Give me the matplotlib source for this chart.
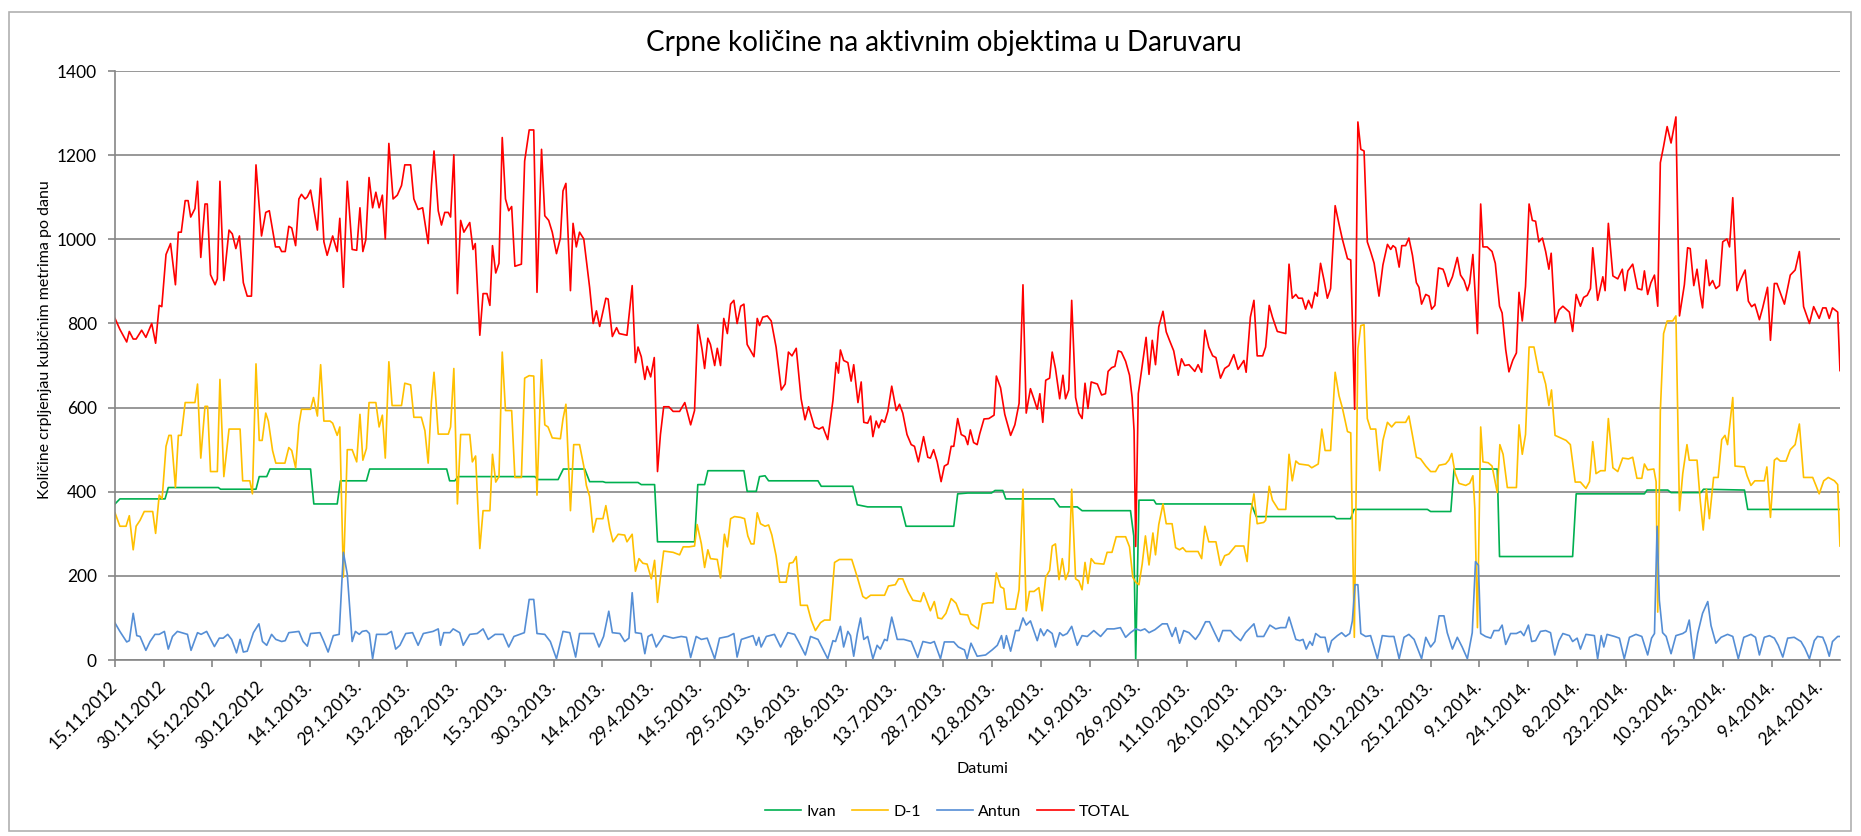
import matplotlib
matplotlib.use("Agg")
import matplotlib.pyplot as plt
from matplotlib.patches import Rectangle

plt.rcParams['font.family'] = ['Lato', 'DejaVu Sans']

# dani od 15.11.2012 (dan 0) do 30.4.2014 (dan 531), vrijednosti u m3/dan
ivan_pts = [(0, 371), (1.5, 383), (15.4, 383), (16.4, 410), (31.8, 410), (32.5, 406), (43.4, 406),
            (44.4, 436), (46.7, 436), (47.7, 454), (60.2, 454), (61.2, 371), (68.4, 371), (69.4, 426),
            (77.4, 426), (78.4, 454), (102.1, 454), (103, 426), (104.6, 426), (105.6, 436), (129.2, 436),
            (130.2, 429), (136.4, 429), (138, 454), (144.6, 454), (146.1, 424), (150.2, 424), (151, 422),
            (161, 422), (162, 417), (166.1, 417), (167, 281), (178.4, 281), (179.4, 417), (181.5, 417),
            (182.5, 450), (193.6, 450), (194.6, 401), (197.4, 401), (198.4, 436), (200.1, 438),
            (201.2, 426), (216.4, 426), (217.4, 413), (227.1, 413), (228.5, 369), (231.7, 364),
            (242, 364), (243.5, 318), (258.2, 318), (259.4, 395), (262.5, 397), (269.8, 397),
            (270.9, 403), (273.3, 403), (274.2, 383), (289, 383), (290.8, 364), (296.2, 364),
            (297.7, 355), (312.6, 355), (313.6, 295), (314.2, 0), (315.2, 380), (319.8, 380),
            (320.5, 371), (349.8, 371), (351.3, 341), (375.3, 341), (376, 336), (380.4, 336),
            (381.4, 358), (404, 358), (405, 353), (411.2, 353), (412.2, 454), (425.5, 454), (426.2, 246),
            (448.7, 246), (449.8, 395), (470.8, 395), (471.6, 404), (478, 404), (479, 398), (488.2, 398),
            (489, 406), (501.6, 404), (502.6, 358), (531, 358)]

d1_pts = [(0, 350), (1.5, 318), (3.4, 318), (4.4, 343), (5.6, 262), (6.5, 318), (7.7, 332), (9, 353),
          (11.6, 353), (12.5, 301), (13.6, 392), (14.5, 383), (15.7, 508), (16.6, 534), (17.3, 534),
          (18.6, 410), (19.5, 534), (20.4, 534), (21.6, 612), (24.6, 612), (25.4, 656), (26.4, 480),
          (27.7, 603), (28.5, 603), (29.4, 448), (31.5, 448), (32.3, 667), (33.5, 436), (35.1, 549),
          (38.5, 549), (39.3, 426), (41.5, 426), (42.3, 395), (43.4, 704), (44.4, 522), (45.3, 522),
          (46.4, 587), (47.2, 568), (48.5, 498), (49.5, 468), (52.3, 468), (53.5, 505), (54.4, 498),
          (55.6, 457), (56.6, 559), (57.4, 596), (60.2, 596), (61.1, 624), (62.3, 580), (63.3, 702),
          (64.3, 568), (66.2, 568), (67, 563), (68.4, 534), (69.2, 554), (70.3, 197), (71.5, 500),
          (73, 500), (74.4, 471), (75.4, 584), (76.3, 475), (77.4, 503), (78.2, 612), (80.3, 612),
          (81.3, 554), (82.3, 582), (83.2, 480), (84.3, 709), (85.3, 605), (88.2, 605), (89.2, 658),
          (91, 654), (92, 577), (94.3, 577), (95.4, 545), (96.4, 468), (97.4, 614), (98.2, 684),
          (99.5, 537), (102.6, 537), (103.3, 554), (104.3, 693), (105.4, 371), (106.4, 536),
          (109.2, 536), (110, 471), (111, 485), (112.3, 265), (113.3, 355), (115.4, 355), (116.2, 489),
          (117.2, 423), (118.2, 436), (119.2, 732), (120.2, 593), (122.1, 593), (123.1, 434),
          (125.1, 434), (126.1, 670), (127.5, 676), (128.9, 675), (129.9, 392), (131.3, 714),
          (132.3, 559), (133.3, 554), (134.6, 528), (137.1, 526), (137.9, 573), (138.8, 608),
          (140.2, 355), (141.2, 512), (143, 512), (144.3, 461), (145.1, 415), (146.1, 389), (147.2, 304),
          (148.2, 336), (150.2, 336), (151.1, 367), (152.3, 313), (153.3, 281), (154.9, 299),
          (156.9, 297), (157.6, 281), (159.2, 299), (160.2, 211), (161.3, 241), (162.5, 230),
          (163.8, 228), (165.1, 193), (166.1, 237), (167, 137), (167.9, 197), (168.9, 259), (171.8, 256),
          (173.8, 250), (174.9, 269), (176.7, 269), (178.4, 271), (179.2, 322), (180.5, 276),
          (181.5, 220), (182.5, 262), (183.3, 241), (185.4, 239), (186.4, 195), (187.6, 299),
          (188.5, 269), (189.5, 336), (190.7, 341), (192.6, 339), (193.8, 336), (194.8, 295),
          (195.8, 276), (196.7, 276), (197.7, 350), (198.7, 324), (200.1, 318), (201.2, 321),
          (202.2, 297), (203.5, 248), (204.6, 185), (206.6, 185), (207.6, 230), (208.7, 232),
          (209.7, 246), (211, 130), (213.1, 130), (214.3, 95), (215.6, 70), (217.2, 89), (218.4, 95),
          (220.1, 95), (221.5, 232), (223, 239), (226.8, 239), (228.5, 197), (230.2, 151), (231.2, 146),
          (232.6, 154), (236.9, 154), (238.1, 176), (240.2, 179), (241.2, 193), (242.5, 193),
          (244.1, 163), (245.6, 142), (248, 139), (248.9, 160), (251, 117), (252.2, 139), (253.3, 100),
          (254.5, 98), (255.8, 111), (257.4, 146), (258.9, 135), (260.2, 109), (262.5, 107), (263.5, 86),
          (265.7, 74), (267, 133), (268.8, 136), (270.3, 136), (271.3, 207), (272.6, 174), (273.6, 170),
          (274.4, 121), (277.2, 121), (278.3, 167), (279.5, 406), (280.5, 117), (281.5, 163),
          (282.9, 163), (284.4, 172), (285.4, 117), (286.5, 197), (287.7, 213), (288.5, 271),
          (289.5, 276), (290.6, 191), (291.6, 241), (292.6, 191), (293.6, 211), (294.5, 406),
          (295.7, 193), (296.7, 188), (297.7, 167), (298.6, 232), (299.5, 182), (300.5, 241),
          (301.6, 230), (304.4, 228), (305.4, 256), (306.9, 256), (308.2, 293), (311.1, 293),
          (312.3, 269), (313.3, 197), (314.2, 185), (315.2, 179), (316.2, 228), (317.2, 295),
          (318.3, 226), (319.5, 302), (320.3, 250), (321.3, 322), (322.6, 371), (323.6, 324),
          (325.4, 324), (326.5, 267), (327.7, 262), (328.7, 267), (329.7, 258), (333.4, 258),
          (334.5, 241), (335.5, 318), (336.7, 281), (338.9, 281), (340.3, 225), (341.6, 248),
          (342.9, 252), (344.9, 271), (347.5, 271), (348.5, 234), (349.5, 345), (350.6, 395),
          (351.6, 324), (353.6, 327), (354.2, 332), (355.3, 413), (356.3, 380), (358.1, 358),
          (360.4, 358), (361.4, 489), (362.4, 426), (363.5, 473), (364.5, 466), (367.4, 463),
          (368.4, 457), (370.4, 466), (371.5, 549), (372.5, 498), (374.2, 498), (375.6, 684),
          (376.8, 628), (377.8, 600), (379.4, 543), (380.4, 540), (381.5, 54), (382.6, 740),
          (383.5, 795), (384.5, 797), (385.5, 574), (386.5, 549), (388.1, 549), (389.3, 450),
          (390.3, 522), (391.7, 565), (393, 554), (394.2, 565), (397.3, 565), (398.3, 580), (399.4, 534),
          (400.6, 482), (401.9, 478), (403.5, 461), (405, 448), (406.5, 448), (407.6, 463), (409.6, 466),
          (410.6, 475), (411.5, 491), (412.5, 445), (413.7, 420), (415.8, 415), (417, 420), (418, 438),
          (418.6, 360), (419.4, 77), (420.4, 554), (421.1, 471), (422.7, 469), (423.9, 461),
          (425.5, 398), (426.3, 512), (427.3, 489), (428.6, 410), (431.4, 410), (432.2, 559),
          (433.2, 489), (434.2, 536), (435.3, 744), (436.8, 744), (438.3, 684), (439.4, 684),
          (440.4, 656), (441.4, 605), (442.2, 642), (443.3, 534), (445, 528), (446.7, 522), (448, 512),
          (449.5, 423), (451.1, 423), (452.8, 408), (453.9, 424), (454.9, 519), (455.9, 443),
          (457.3, 450), (458.7, 450), (459.7, 574), (461.1, 457), (462.6, 448), (464.1, 480),
          (465.9, 478), (467.2, 482), (468.5, 432), (470, 432), (470.8, 466), (471.8, 452), (473.7, 454),
          (474.4, 424), (474.9, 114), (475.7, 591), (476.7, 776), (477.8, 806), (479.5, 806),
          (480.5, 818), (481.6, 355), (482.6, 443), (483.9, 512), (484.6, 475), (487, 475), (488, 378),
          (488.9, 309), (489.9, 406), (490.8, 336), (492.1, 434), (493.5, 434), (494.6, 524),
          (495.6, 534), (496.4, 512), (498, 624), (498.7, 461), (501.6, 459), (502.4, 438), (503.6, 415),
          (504.8, 426), (507.7, 426), (508.5, 459), (509.6, 339), (510.8, 475), (511.6, 480),
          (512.6, 473), (514.4, 473), (515.7, 500), (517.2, 512), (518.5, 561), (519.8, 434),
          (522.6, 434), (523.6, 415), (524.6, 395), (526, 426), (527.4, 434), (529.3, 426), (530.3, 417),
          (531, 271)]

antun_pts = [(0, 88), (1.5, 68), (3.6, 43), (4.4, 46), (5.6, 111), (6.7, 58), (7.7, 56), (9.5, 23),
             (10.8, 44), (12.3, 61), (13.6, 61), (15.2, 68), (16.4, 26), (17.7, 56), (19.2, 68), (22.3, 61),
             (23.4, 23), (25.4, 65), (26.5, 61), (28.2, 68), (30.6, 32), (32.1, 52), (33.3, 52), (34.7, 61),
             (35.9, 49), (37.4, 17), (38.5, 49), (39.5, 19), (40.7, 21), (42.6, 65), (44.3, 86), (45.4, 44),
             (46.7, 35), (48.2, 61), (49.5, 49), (51.3, 44), (52.4, 46), (53.5, 65), (56.6, 68), (57.9, 44),
             (59.2, 33), (60.2, 63), (63.1, 65), (64.3, 44), (65.6, 19), (67.2, 58), (69, 61), (70.3, 256),
             (71.5, 204), (73, 44), (74, 68), (75.2, 61), (76.1, 68), (77.4, 70), (78.3, 63), (79.3, 3),
             (80.5, 61), (83.6, 61), (85.1, 68), (86.4, 26), (87.7, 35), (89.5, 63), (91.6, 65), (93.3, 35),
             (94.9, 63), (97.9, 68), (99.5, 74), (100.2, 35), (101.2, 65), (103.1, 65), (104.1, 74),
             (106.1, 65), (107.2, 35), (109.2, 61), (111.5, 63), (113.3, 74), (114.9, 49), (117, 61),
             (119.5, 61), (121.2, 31), (122.8, 56), (124.6, 61), (126, 65), (127.5, 144), (128.9, 144),
             (129.9, 63), (132.3, 61), (134, 44), (135.9, 3), (137.9, 68), (140, 65), (141.8, 7), (143, 63),
             (147.4, 63), (149, 31), (150.4, 56), (152, 116), (153.1, 65), (155.4, 63), (156.9, 44),
             (158.2, 52), (159.2, 160), (160.2, 65), (162, 63), (163.1, 15), (164.1, 56), (165.3, 61),
             (166.6, 31), (168.9, 58), (171.8, 52), (174.3, 56), (175.9, 54), (177.2, 6), (178.9, 56),
             (180.5, 49), (182.3, 52), (184.6, 3), (186.1, 52), (188.7, 56), (190.5, 63), (191.5, 7),
             (192.8, 49), (194.8, 54), (196.4, 58), (197.4, 35), (198.2, 54), (198.9, 31), (200.5, 56),
             (203, 61), (204.9, 31), (207.1, 65), (209.2, 61), (210.4, 44), (212.5, 12), (214.1, 56),
             (216.4, 49), (219.4, 3), (221, 46), (221.8, 44), (223.3, 80), (224.3, 31), (225.6, 68),
             (226.4, 58), (227.4, 9), (228.5, 63), (229.5, 100), (230.5, 49), (231.7, 56), (233.3, 3),
             (234.6, 35), (235.6, 26), (236.9, 49), (237.7, 46), (239.1, 102), (240.8, 49), (242.8, 49),
             (245.1, 44), (247.1, 6), (248.7, 44), (251, 40), (252.2, 44), (254.1, 3), (255.3, 43),
             (258.2, 43), (259.6, 31), (261.5, 24), (262.3, 3), (263.5, 40), (265.4, 9), (268, 12),
             (270, 24), (271.6, 35), (272.9, 58), (273.6, 28), (274.4, 58), (275.7, 21), (277.2, 70),
             (278.3, 70), (279.5, 100), (280.5, 83), (281.8, 93), (282.9, 68), (283.9, 46), (284.9, 74),
             (285.9, 58), (287, 72), (288.5, 63), (289.5, 31), (290.8, 65), (291.8, 58), (293.1, 63),
             (294.5, 80), (296.2, 35), (297.7, 58), (299.3, 56), (301.3, 70), (303.4, 56), (305.4, 74),
             (307.5, 74), (309.5, 77), (311.1, 54), (312.6, 65), (314.2, 74), (315.7, 70), (317, 74),
             (318.3, 65), (320.1, 72), (322.4, 86), (323.9, 86), (325.4, 56), (326.5, 77), (327.7, 40),
             (329, 70), (330.6, 65), (332.6, 49), (333.9, 63), (335.7, 91), (336.9, 91), (338.6, 63),
             (339.8, 44), (341, 70), (343.4, 70), (344.7, 58), (346.5, 46), (348, 65), (350.6, 86),
             (351.6, 56), (353.6, 56), (355.5, 83), (357.3, 74), (358.8, 77), (360.4, 77), (361.4, 102),
             (362.4, 77), (363.5, 49), (364.7, 46), (365.7, 49), (366.7, 26), (367.8, 44), (368.6, 35),
             (369.6, 63), (371.1, 54), (372.5, 54), (373.5, 19), (374.5, 46), (376.3, 58), (377.6, 65),
             (378.8, 56), (380.1, 63), (380.9, 93), (381.7, 179), (382.6, 179), (383.5, 63), (385, 56),
             (386.5, 58), (388.6, 3), (390.1, 58), (392.2, 56), (393.7, 56), (395.3, 3), (396.8, 54),
             (398.3, 61), (399.9, 49), (402.2, 3), (403.5, 54), (405, 31), (406.3, 44), (407.6, 105),
             (409.1, 105), (410.1, 65), (411.7, 26), (413.2, 54), (414.7, 31), (416.3, 3), (417.8, 65),
             (418.8, 234), (419.7, 225), (420.4, 63), (421.9, 56), (423.5, 52), (424.5, 70), (426, 70),
             (427, 83), (428.1, 37), (429.6, 63), (431.4, 63), (432.7, 68), (433.7, 58), (435.1, 83),
             (436.1, 44), (437.3, 46), (438.8, 68), (440.4, 70), (441.9, 65), (443.2, 12), (444.5, 46),
             (445.7, 63), (447.7, 58), (448.7, 44), (450.1, 52), (451.1, 26), (452.8, 61), (455.4, 58),
             (456.4, 3), (457.5, 58), (458.3, 31), (459.3, 61), (461.6, 56), (463.1, 52), (464.6, 3),
             (466.2, 54), (468.2, 61), (470, 56), (471.8, 12), (473, 52), (473.9, 63), (474.7, 318),
             (475.4, 142), (476.4, 65), (477.5, 56), (479, 15), (480.5, 58), (482.6, 63), (483.6, 68),
             (484.6, 95), (486, 3), (487.2, 63), (488.7, 111), (490.3, 139), (491.3, 82), (492.8, 40),
             (494.4, 54), (496.4, 61), (498, 56), (499.7, 3), (501.4, 54), (503.6, 61), (505, 54),
             (506.2, 12), (507.7, 54), (509.3, 58), (510.8, 52), (512, 35), (513.4, 7), (514.9, 52),
             (516.9, 54), (519, 44), (520.2, 28), (521.6, 3), (523.1, 46), (524.1, 56), (525.7, 54),
             (526.7, 35), (527.7, 9), (528.7, 44), (530.3, 56), (531, 56)]

total_pts = [(0, 812), (1.5, 786), (3.6, 756), (4.4, 781), (5.6, 763), (6.5, 763), (8.2, 784), (9.5, 767),
             (11.3, 800), (12.5, 753), (13.6, 843), (14.4, 840), (15.7, 964), (17.1, 990), (18.6, 892),
             (19.5, 1017), (20.4, 1017), (21.6, 1092), (22.5, 1092), (23.3, 1053), (24.6, 1073),
             (25.4, 1138), (26.4, 957), (27.7, 1084), (28.4, 1084), (29.4, 916), (30.8, 892), (31.5, 906),
             (32.3, 1138), (33.5, 902), (35.1, 1022), (36.1, 1013), (37.2, 978), (38.3, 1008), (39.5, 897),
             (40.7, 865), (42, 865), (43.4, 1177), (45.1, 1008), (46.4, 1064), (47.5, 1068), (49.4, 982),
             (50.6, 982), (51.3, 971), (52.4, 971), (53.5, 1031), (54.4, 1027), (55.6, 985), (56.6, 1096),
             (57.4, 1107), (58.5, 1096), (59.2, 1101), (60.2, 1117), (62.3, 1022), (63.3, 1145),
             (64.3, 994), (65.3, 962), (67, 1008), (68.4, 971), (69.2, 1050), (70.3, 886), (71.5, 1138),
             (73, 976), (74.4, 974), (75.4, 1075), (76.3, 971), (77.2, 999), (78.2, 1147), (79.3, 1075),
             (80.3, 1112), (81.3, 1075), (82.3, 1105), (83.2, 1001), (84.3, 1228), (85.6, 1096),
             (86.9, 1105), (88.2, 1128), (89.2, 1177), (91, 1177), (92, 1096), (93.3, 1071), (94.7, 1075),
             (96.4, 990), (97.4, 1128), (98.2, 1210), (99.5, 1068), (100.5, 1034), (101.5, 1064),
             (102.6, 1064), (103.3, 1053), (104.3, 1201), (105.4, 871), (106.4, 1045), (107.4, 1017),
             (109.2, 1040), (110.2, 976), (110.9, 990), (112.3, 772), (113.3, 871), (114.5, 871),
             (115.4, 843), (116.2, 985), (117.2, 920), (118.2, 943), (119.2, 1242), (120.2, 1096),
             (121.2, 1068), (122.1, 1078), (123.1, 936), (125.1, 941), (126.1, 1186), (127.5, 1260),
             (128.9, 1260), (129.9, 874), (131.3, 1214), (132.3, 1056), (133.5, 1045), (134.6, 1017),
             (135.9, 966), (137.1, 1003), (137.9, 1115), (138.8, 1133), (140.2, 878), (141, 1038),
             (142, 982), (143, 1017), (144.3, 1001), (146.1, 886), (147.2, 800), (148.2, 830), (149.2, 793),
             (151.1, 860), (151.8, 858), (153.1, 769), (154.4, 790), (155.2, 776), (157.6, 772),
             (159.2, 890), (160.2, 707), (161, 744), (162, 721), (163.1, 667), (163.8, 698), (164.9, 673),
             (166, 719), (167, 448), (167.9, 536), (168.9, 602), (170.5, 602), (171.8, 591), (173.8, 591),
             (175.4, 612), (177.2, 559), (178.4, 593), (179.4, 797), (180.7, 739), (181.5, 693),
             (182.5, 765), (183.3, 750), (184.6, 700), (185.4, 741), (186.4, 700), (187.4, 812),
             (188.5, 776), (189.5, 846), (190.5, 855), (191.5, 800), (192.6, 841), (193.6, 846),
             (194.6, 750), (196.7, 721), (197.7, 812), (198.4, 795), (199.4, 815), (200.8, 818), (202, 806),
             (203.5, 744), (205.1, 642), (206.3, 656), (207.3, 732), (208.4, 723), (209.7, 741),
             (211.2, 621), (212.4, 571), (213.5, 602), (215.3, 554), (216.7, 549), (217.9, 554),
             (219.4, 524), (221, 617), (222, 707), (222.7, 682), (223.3, 737), (224.3, 712), (225.6, 707),
             (226.6, 663), (227.4, 702), (228.7, 612), (229.7, 661), (230.5, 565), (231.7, 563),
             (232.6, 580), (233.3, 531), (234.3, 568), (235.1, 552), (236, 571), (236.9, 565), (237.9, 591),
             (239.1, 651), (240.5, 593), (241.5, 608), (242.5, 587), (243.8, 536), (245.1, 512),
             (246.1, 508), (247.3, 471), (248.9, 531), (250.2, 482), (251, 480), (252, 500), (253.1, 471),
             (254.3, 424), (255.3, 461), (256.4, 466), (257.4, 508), (258.2, 508), (259.4, 574),
             (260.5, 536), (261.7, 531), (262.5, 512), (263.3, 547), (264.3, 517), (265.4, 512),
             (266.2, 538), (267.5, 573), (269, 574), (270.6, 582), (271.3, 675), (272.6, 647), (273.9, 584),
             (275.7, 534), (277, 559), (278.3, 610), (279.5, 892), (280.5, 587), (281.8, 645), (282.9, 620),
             (283.9, 596), (284.7, 633), (285.6, 565), (286.5, 665), (287.7, 670), (288.5, 732),
             (289.5, 693), (290.8, 621), (291.8, 677), (292.6, 621), (293.6, 642), (294.5, 855),
             (295.7, 624), (296.7, 587), (297.7, 574), (298.6, 658), (299.5, 598), (300.5, 661),
             (302.4, 656), (303.7, 630), (304.9, 633), (305.7, 686), (306.8, 695), (307.8, 698),
             (308.8, 735), (309.8, 732), (311.1, 710), (312.3, 677), (313.1, 624), (313.7, 545),
             (314.2, 270), (315, 633), (316, 688), (317.4, 767), (318.3, 679), (319.3, 760), (320.3, 702),
             (321.3, 792), (322.6, 829), (323.6, 780), (324.6, 760), (325.9, 735), (327.3, 677),
             (328.3, 716), (329.3, 700), (330.6, 702), (332.4, 686), (333.4, 702), (334.5, 684),
             (335.5, 784), (336.7, 744), (337.9, 723), (338.9, 719), (340.3, 670), (341.6, 693),
             (342.9, 700), (344.4, 726), (345.7, 691), (346.8, 704), (347.5, 712), (348.2, 684),
             (349.5, 815), (350.6, 855), (351.6, 723), (353.3, 723), (354.2, 744), (355.3, 843),
             (356.3, 815), (357.8, 781), (360.4, 776), (361.4, 941), (362.4, 860), (363.5, 869),
             (364.3, 860), (365.5, 860), (366.5, 834), (367.4, 855), (368.4, 837), (369.4, 874),
             (370.1, 865), (371.1, 943), (372.2, 902), (373.2, 860), (374.2, 883), (375.6, 1080),
             (376.8, 1036), (377.8, 1001), (379.4, 954), (380.4, 951), (381.6, 596), (382.6, 1279),
             (383.5, 1214), (384.5, 1210), (385.5, 994), (386.5, 971), (387.6, 943), (389.1, 865),
             (390.3, 939), (391.7, 988), (392.7, 976), (393.4, 985), (394.2, 980), (395.3, 934),
             (396.1, 985), (397.3, 985), (398.3, 1003), (399.4, 962), (400.6, 897), (401.4, 886),
             (402.2, 846), (403.5, 869), (404.5, 865), (405.3, 834), (406.3, 843), (407.4, 932),
             (408.8, 929), (409.4, 917), (410.4, 888), (411.7, 911), (413.2, 957), (414.2, 915),
             (415.3, 902), (416.3, 878), (417, 895), (418, 964), (419.4, 776), (420.4, 1084), (421.1, 982),
             (422.4, 982), (423.9, 971), (424.9, 943), (426.2, 841), (427, 825), (428.1, 738), (429.1, 685),
             (430.3, 713), (431.4, 730), (432.2, 874), (433.2, 806), (434.2, 888), (435.3, 1084),
             (436.3, 1045), (437.3, 1043), (438.3, 994), (439.4, 1003), (440.4, 971), (441.4, 929),
             (442.1, 967), (443.3, 802), (444.5, 832), (445.7, 841), (447.7, 827), (448.7, 781),
             (449.8, 869), (451.1, 841), (452.1, 862), (453.2, 867), (454.2, 883), (454.9, 980),
             (456.4, 855), (458, 911), (458.7, 878), (459.7, 1038), (461.1, 913), (462.6, 906), (464, 929),
             (464.8, 878), (465.7, 925), (467.2, 941), (468.7, 883), (470, 880), (470.8, 925), (471.8, 869),
             (472.8, 897), (473.9, 915), (474.9, 841), (475.7, 1182), (476.7, 1221), (477.8, 1268),
             (479, 1229), (480.5, 1291), (481.6, 818), (483.1, 892), (484.1, 980), (484.9, 978), (486, 890),
             (487, 929), (488, 869), (488.7, 837), (489.8, 951), (490.8, 890), (491.8, 902), (492.8, 883),
             (493.9, 890), (494.9, 994), (496.2, 1001), (497, 982), (498, 1099), (499.3, 878), (500.3, 902),
             (501.8, 927), (502.8, 853), (503.8, 840), (504.8, 846), (506.2, 809), (507.2, 837),
             (508.7, 886), (509.6, 760), (510.8, 895), (511.6, 895), (513.9, 846), (515.7, 915),
             (517.2, 927), (518.5, 971), (519.8, 840), (521.6, 800), (522.9, 840), (524.6, 812),
             (525.7, 837), (526.7, 837), (527.7, 812), (528.7, 837), (530.3, 827), (531, 688)]

tick_labels = ["15.11.2012", "30.11.2012", "15.12.2012", "30.12.2012", "14.1.2013.", "29.1.2013.",
               "13.2.2013.", "28.2.2013.", "15.3.2013.", "30.3.2013.", "14.4.2013.", "29.4.2013.",
               "14.5.2013.", "29.5.2013.", "13.6.2013.", "28.6.2013.", "13.7.2013.", "28.7.2013.",
               "12.8.2013.", "27.8.2013.", "11.9.2013.", "26.9.2013.", "11.10.2013.", "26.10.2013.",
               "10.11.2013.", "25.11.2013.", "10.12.2013.", "25.12.2013.", "9.1.2014.", "24.1.2014.",
               "8.2.2014.", "23.2.2014.", "10.3.2014.", "25.3.2014.", "9.4.2014.", "24.4.2014."]

series = [("Ivan", ivan_pts, "#00B050"),
          ("D-1", d1_pts, "#FFC000"),
          ("Antun", antun_pts, "#558ED5"),
          ("TOTAL", total_pts, "#FF0000")]

fig = plt.figure(figsize=(18.61, 8.36), dpi=100)
ax = fig.add_axes([0.0618, 0.2105, 0.9269, 0.7045])

for name, pts, col in series:
    d, v = zip(*pts)
    ax.plot(d, v, color=col, lw=1.2, label=name)

grey = "#868686"
ax.set_xlim(0, 531)
ax.set_ylim(0, 1400)
ax.set_yticks(range(0, 1401, 200))
ax.set_xticks(range(0, 15 * len(tick_labels), 15))
ax.set_xticklabels(tick_labels)
ax.grid(axis="y", color=grey, lw=1.2)
ax.set_axisbelow(True)
for s in ["top", "right"]:
    ax.spines[s].set_visible(False)
for s in ["left", "bottom"]:
    ax.spines[s].set_color(grey)
    ax.spines[s].set_linewidth(1.2)
ax.tick_params(axis="both", color=grey, length=5, width=1.2, labelsize=12.5)
ax.tick_params(axis="y", pad=8)
ax.tick_params(axis="x", pad=12)
plt.setp(ax.get_xticklabels(), rotation=45, ha="right", va="center", rotation_mode="anchor")

fig.text(0.507, 0.949, "Crpne količine na aktivnim objektima u Daruvaru", ha="center", va="center",
         fontsize=20)
fig.text(0.024, 0.594, "Količine crpljenjau kubičnim metrima po danu", rotation=90,
         ha="center", va="center", fontsize=11.5)
fig.text(0.528, 0.080, "Datumi", ha="center", va="center", fontsize=11.5)

fig.legend(loc="center", bbox_to_anchor=(0.509, 0.029), ncol=4, frameon=False, fontsize=11.5,
           handlelength=2.3, columnspacing=1.0, handletextpad=0.3)

fig.patches.append(Rectangle((9 / 1861, 5 / 836), 1842 / 1861, 819 / 836, transform=fig.transFigure,
                             fill=False, edgecolor="#b0b0b0", lw=1.2))

fig.savefig("out.png", dpi=100)
